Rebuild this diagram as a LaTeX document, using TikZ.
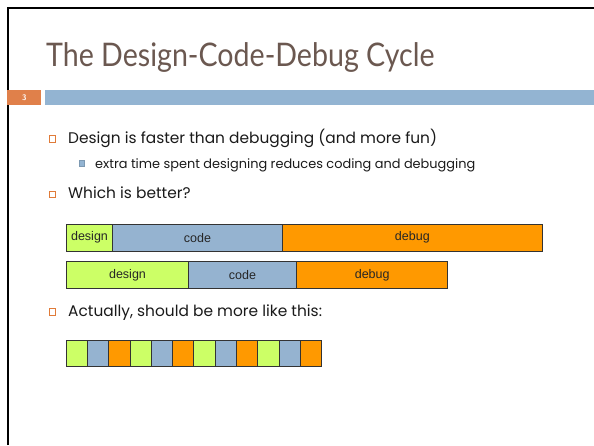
\documentclass[tikz,border=0pt]{standalone}
\usepackage{fontspec}
\setmainfont{Lato}
\newfontfamily\titlefont[FakeStretch=0.88]{Lato}
\newfontfamily\bodyfont{Poppins}
\newfontfamily\barfont{Liberation Sans}
\definecolor{titlebrown}{HTML}{6B5850}
\definecolor{barblue}{HTML}{93B4D2}
\definecolor{numorange}{HTML}{E0804A}
\definecolor{bulorange}{HTML}{E07B39}
\definecolor{cgreen}{HTML}{CCFF66}
\definecolor{cblue}{HTML}{95B3D0}
\definecolor{corange}{HTML}{FF9900}
\definecolor{bodytext}{HTML}{1A1A1A}
\tikzset{
  seg/.style={draw=black!80, line width=0.8pt, inner sep=0pt, outer sep=0pt, font=\barfont\fontsize{12.5}{13}\selectfont, text=black!85},
  lvlone/.style={anchor=base west, inner sep=0pt, text=bodytext, font=\bodyfont\fontsize{15.4}{16}\selectfont},
  lvltwo/.style={anchor=base west, inner sep=0pt, text=bodytext, font=\bodyfont\fontsize{12.9}{14}\selectfont},
  bulone/.style={draw=bulorange, line width=1pt, minimum size=6.5pt, inner sep=0pt},
  bultwo/.style={draw=barblue!85!black, fill=barblue, line width=1pt, minimum size=5.5pt, inner sep=0pt},
}
\begin{document}
\begin{tikzpicture}[x=1pt,y=-1pt]
\useasboundingbox (0,0) rectangle (594,445);
\fill[white] (0,0) rectangle (594,445);
% frame
\draw[line width=2pt] (7.5,445) -- (7.5,8) -- (594,8);
% title
\node[anchor=base west, inner sep=0pt, text=titlebrown, font=\titlefont\fontsize{32.5}{34}\selectfont] (title) at (46,66) {The Design-Code-Debug Cycle};
% header bars
\node[fill=numorange, minimum width=34pt, minimum height=15pt, inner sep=0pt, anchor=north west, text=white, font=\sffamily\bfseries\fontsize{8}{8}\selectfont] (num) at (7,90) {3};
\node[fill=barblue, minimum width=549pt, minimum height=15pt, inner sep=0pt, anchor=north west] (hbar) at (45,90) {};
% bullets
\node[bulone] (b1) at (52.3,138.8) {};
\node[lvlone] (t1) at (68,143) {Design is faster than debugging (and more fun)};
\node[bultwo] (b2) at (82,163.7) {};
\node[lvltwo] (t2) at (95,168) {extra time spent designing reduces coding and debugging};
\node[bulone] (b3) at (52.3,194.6) {};
\node[lvlone] (t3) at (68,198) {Which is better?};
\node[bulone] (b4) at (52.5,311.8) {};
\node[lvlone] (t4) at (68,316) {Actually, should be more like this:};
% row 1
\node[seg, fill=cgreen, minimum width=45.6pt, minimum height=26.7pt, anchor=north west] (r1a) at (66.7,224.3) {design};
\node[seg, fill=cblue, minimum width=170.4pt, minimum height=26.7pt, anchor=north west] (r1b) at (r1a.north east) {code};
\node[seg, fill=corange, minimum width=259.3pt, minimum height=26.7pt, anchor=north west] (r1c) at (r1b.north east) {debug};
% row 2
\node[seg, fill=cgreen, minimum width=121.6pt, minimum height=27pt, anchor=north west] (r2a) at (66.7,261.7) {design};
\node[seg, fill=cblue, minimum width=108.4pt, minimum height=27pt, anchor=north west] (r2b) at (r2a.north east) {code};
\node[seg, fill=corange, minimum width=151pt, minimum height=27pt, anchor=north west] (r2c) at (r2b.north east) {debug};
% small squares
\foreach \i/\c in {0/cgreen,1/cblue,2/corange,3/cgreen,4/cblue,5/corange,6/cgreen,7/cblue,8/corange,9/cgreen,10/cblue,11/corange}{
  \node[seg, fill=\c, minimum width=21.3pt, minimum height=26.7pt, anchor=north west] (sq\i) at (66+21.3*\i,340) {};
}
\end{tikzpicture}
\end{document}
